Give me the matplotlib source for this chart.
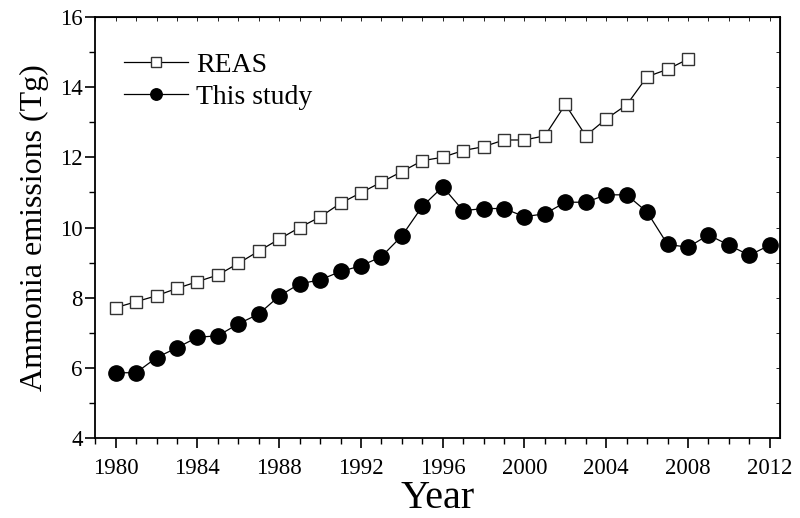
import matplotlib
matplotlib.use("Agg")
import matplotlib.pyplot as plt
from matplotlib.ticker import MultipleLocator

plt.rcParams['font.family'] = ['Liberation Serif', 'DejaVu Serif']

reas_years = list(range(1980, 2009))
reas_values = [7.72, 7.89, 8.06, 8.27, 8.46, 8.65, 8.98, 9.33, 9.67, 10.0,
               10.3, 10.69, 10.99, 11.29, 11.59, 11.9, 12.0, 12.19, 12.3, 12.49,
               12.49, 12.61, 13.5, 12.61, 13.09, 13.49, 14.29, 14.5, 14.79]

study_years = list(range(1980, 2013))
study_values = [5.87, 5.87, 6.30, 6.58, 6.88, 6.92, 7.26, 7.54, 8.05, 8.40,
                8.51, 8.75, 8.91, 9.17, 9.76, 10.60, 11.16, 10.48, 10.54, 10.54,
                10.31, 10.39, 10.72, 10.72, 10.93, 10.93, 10.44, 9.52, 9.44, 9.79,
                9.50, 9.21, 9.50]

x_ticks = list(range(1980, 2013, 4))
y_ticks = [4, 6, 8, 10, 12, 14, 16]

fig = plt.figure(figsize=(8, 5.18), dpi=100)
ax = fig.add_axes([0.119, 0.1535, 0.856, 0.8145])

ax.plot(reas_years, reas_values, color='black', lw=0.9, marker='s', ms=9,
        mfc='white', mec='#333333', mew=1.0, label='REAS')
ax.plot(study_years, study_values, color='black', lw=0.9, marker='o', ms=11,
        mfc='black', mec='black', label='This study')

ax.set_xlim(1979, 2012.5)
ax.set_ylim(4, 16)
ax.set_xticks(x_ticks)
ax.set_yticks(y_ticks)
ax.xaxis.set_minor_locator(MultipleLocator(1))
ax.yaxis.set_minor_locator(MultipleLocator(1))
ax.tick_params(which='both', direction='out', labelsize=16.5)
ax.tick_params(which='major', length=7, width=1.2)
ax.tick_params(which='minor', length=4, width=1.0)
ax.tick_params(axis='x', which='major', pad=7)
ax.tick_params(axis='y', which='major', pad=2)

# small inward ticks on top / right
ax2 = ax.secondary_xaxis('top')
ax2.set_xticks(range(1979, 2013))
ax2.tick_params(direction='in', length=3, width=0.6, labeltop=False)
ax3 = ax.secondary_yaxis('right')
ax3.set_yticks(range(4, 17))
ax3.tick_params(direction='in', length=3, width=0.6, labelright=False)

for s in ax.spines.values():
    s.set_linewidth(1.3)

ax.set_xlabel('Year', fontsize=29, labelpad=1)
ax.set_ylabel('Ammonia emissions (Tg)', fontsize=23, labelpad=8)

leg = ax.legend(loc='upper left', bbox_to_anchor=(0.005, 0.975), frameon=False,
                fontsize=20, handlelength=2.3, handletextpad=0.3,
                labelspacing=0.25, markerscale=0.75)

fig.savefig('out.png', dpi=100)
